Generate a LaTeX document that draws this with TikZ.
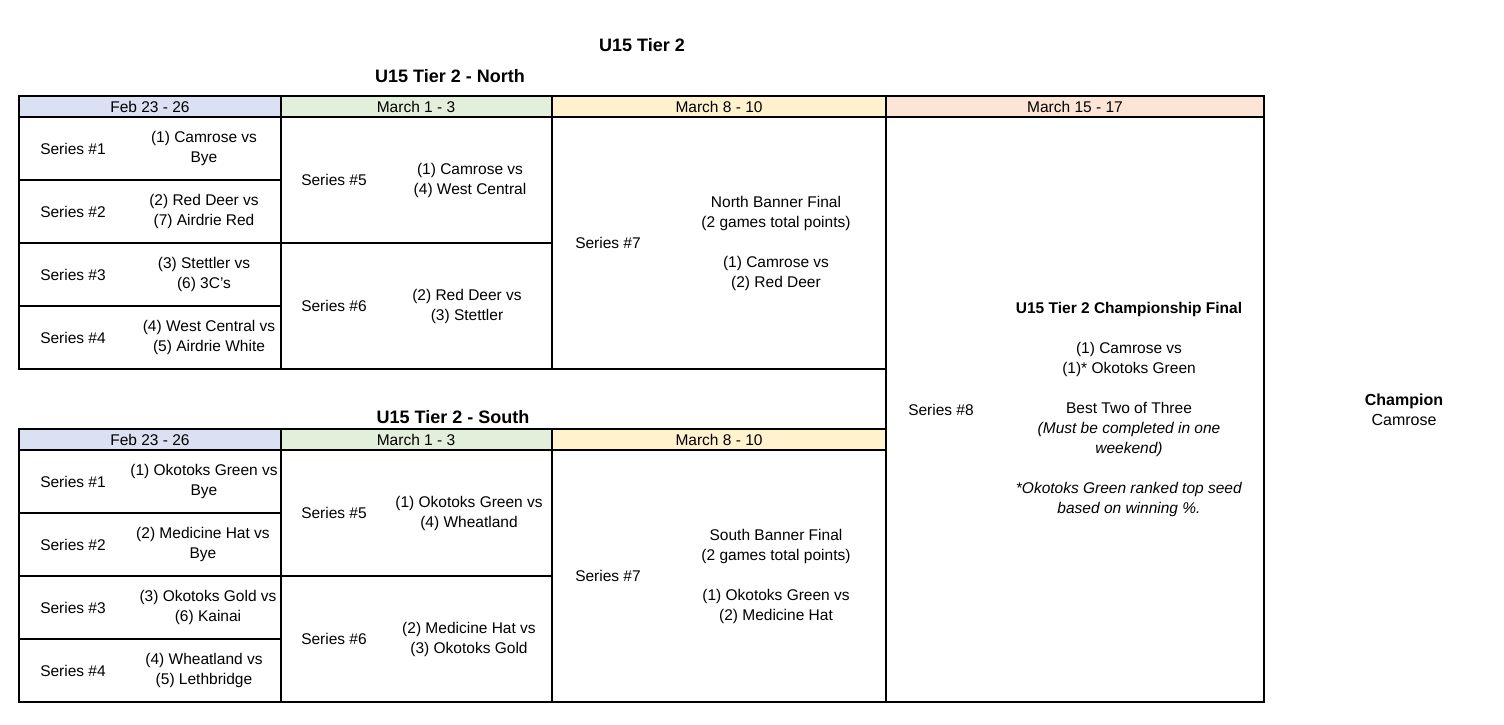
\documentclass[tikz,border=0pt]{standalone}
\usepackage{fontspec}
\setmainfont{Liberation Sans}
\definecolor{hdrblue}{HTML}{D9E1F2}
\definecolor{hdrgreen}{HTML}{E2EFDA}
\definecolor{hdryellow}{HTML}{FFF2CC}
\definecolor{hdrpeach}{HTML}{FCE4D6}
\begin{document}
\begin{tikzpicture}[x=1pt, y=-1pt,
  grid/.style={line width=1.8pt},
  txt/.style={font=\fontsize{15.5}{20}\selectfont, align=center, inner sep=0pt},
  ttl/.style={font=\fontsize{18}{22}\selectfont\bfseries, inner sep=0pt}]
\useasboundingbox (0,0) rectangle (1504,724);
\node[ttl] (title) at (642,45) {U15 Tier 2};
\node[ttl] (northttl) at (450,76) {U15 Tier 2 - North};
\node[ttl] (southttl) at (453,417) {U15 Tier 2 - South};
% the two bracket blocks
\foreach \oy/\blk in {0/n,333/s}{
  \fill[hdrblue] (19,96+\oy) rectangle (281,117+\oy);
  \fill[hdrgreen] (281,96+\oy) rectangle (552,117+\oy);
  \fill[hdryellow] (552,96+\oy) rectangle (886,117+\oy);
  \draw[grid] (19,96+\oy) rectangle (886,369+\oy);
  \draw[grid] (19,117+\oy) -- (886,117+\oy);
  \draw[grid] (281,96+\oy) -- (281,369+\oy) (552,96+\oy) -- (552,369+\oy);
  \draw[grid] (19,180+\oy) -- (281,180+\oy) (19,243+\oy) -- (552,243+\oy) (19,306+\oy) -- (281,306+\oy);
  \node[txt] (\blk h1) at (150,107+\oy) {Feb 23 - 26};
  \node[txt] (\blk h2) at (416,107+\oy) {March 1 - 3};
  \node[txt] (\blk h3) at (719,107+\oy) {March 8 - 10};
  \foreach \i in {1,...,4}
    \node[txt] (\blk s\i) at (73,{148.5+63*(\i-1)+\oy}) {Series \#\i};
  \node[txt] (\blk s5) at (334,180+\oy) {Series \#5};
  \node[txt] (\blk s6) at (334,306+\oy) {Series \#6};
  \node[txt] (\blk s7) at (608,243+\oy) {Series \#7};
}
% final column
\fill[hdrpeach] (886,96) rectangle (1264,117);
\draw[grid] (886,96) rectangle (1264,702);
\draw[grid] (886,117) -- (1264,117);
\node[txt] (fh) at (1075,107) {March 15 - 17};
% north matchups
\node[txt] (nm1) at (204,148.5) {(1) Camrose vs\\Bye};
\node[txt] (nm2) at (204,211.5) {(2) Red Deer vs\\(7) Airdrie Red};
\node[txt] (nm3) at (204,274.5) {(3) Stettler vs\\(6) 3C's};
\node[txt] (nm4) at (209,337.5) {(4) West Central vs\\(5) Airdrie White};
\node[txt] (nm5) at (470,180) {(1) Camrose vs\\(4) West Central};
\node[txt] (nm6) at (467,306) {(2) Red Deer vs\\(3) Stettler};
\node[txt] (nm7) at (776,243) {North Banner Final\\(2 games total points)\\[20pt](1) Camrose vs\\(2) Red Deer};
% south matchups
\node[txt] (sm1) at (204,481.5) {(1) Okotoks Green vs\\Bye};
\node[txt] (sm2) at (203,544.5) {(2) Medicine Hat vs\\Bye};
\node[txt] (sm3) at (208,607.5) {(3) Okotoks Gold vs\\(6) Kainai};
\node[txt] (sm4) at (204,670.5) {(4) Wheatland vs\\(5) Lethbridge};
\node[txt] (sm5) at (469,513) {(1) Okotoks Green vs\\(4) Wheatland};
\node[txt] (sm6) at (469,639) {(2) Medicine Hat vs\\(3) Okotoks Gold};
\node[txt] (sm7) at (776,576) {South Banner Final\\(2 games total points)\\[20pt](1) Okotoks Green vs\\(2) Medicine Hat};
% championship
\node[txt] (f8) at (941,410) {Series \#8};
\node[txt] (fm) at (1129,409) {\textbf{U15 Tier 2 Championship Final}\\[20pt](1) Camrose vs\\(1)* Okotoks Green\\[20pt]Best Two of Three\\\textit{(Must be completed in one}\\\textit{weekend)}\\[20pt]\textit{*Okotoks Green ranked top seed}\\\textit{based on winning \%.}};
\node[txt, font=\fontsize{16}{20}\selectfont] (champ) at (1404,410) {\textbf{Champion}\\Camrose};
\end{tikzpicture}
\end{document}
